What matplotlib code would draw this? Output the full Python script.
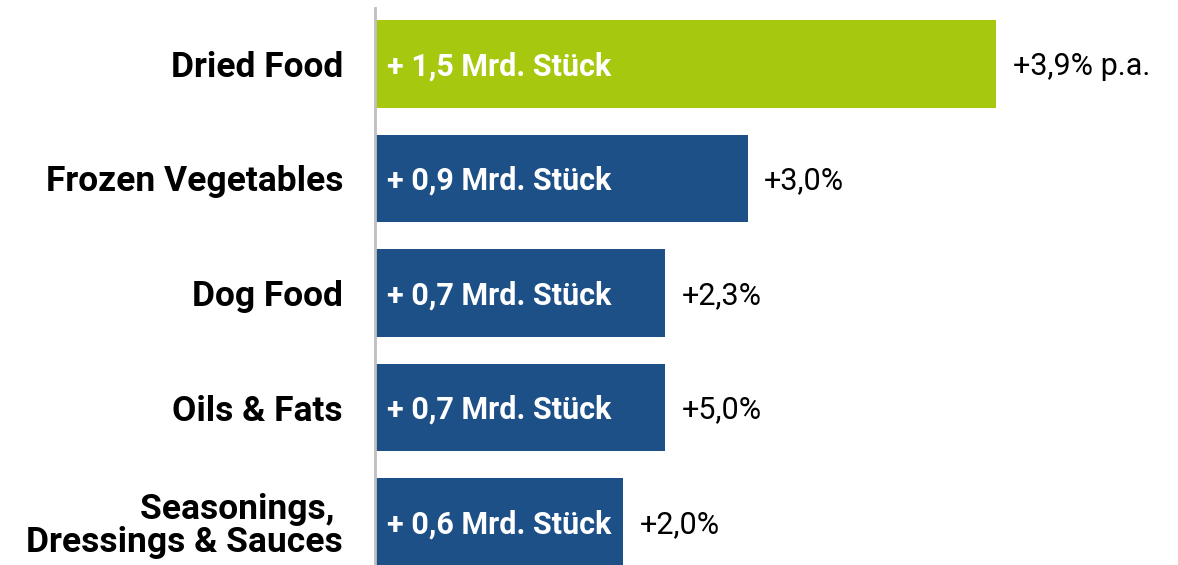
import matplotlib
matplotlib.use('Agg')
import matplotlib.pyplot as plt

categories = ['Dried Food', 'Frozen Vegetables', 'Dog Food', 'Oils & Fats',
              'Seasonings, \nDressings & Sauces']
values = [1.5, 0.9, 0.7, 0.7, 0.6]
bar_labels = ['+ 1,5 Mrd. Stück', '+ 0,9 Mrd. Stück', '+ 0,7 Mrd. Stück',
              '+ 0,7 Mrd. Stück', '+ 0,6 Mrd. Stück']
growth = ['+3,9% p.a.', '+3,0%', '+2,3%', '+5,0%', '+2,0%']
colors = ['#A6C80F', '#1E5088', '#1E5088', '#1E5088', '#1E5088']

plt.rcParams['font.family'] = ['Roboto', 'DejaVu Sans']

fig = plt.figure(figsize=(11.78, 5.65), dpi=100)
ax = fig.add_axes([375 / 1178, 0, 1 - 375 / 1178, 557 / 565])

pos = list(range(len(categories)))
ax.barh(pos, values, height=0.765, color=colors)
ax.set_ylim(4.374, -0.487)
ax.set_xlim(0, 803 / 414)

for y, v, lab, g in zip(pos, values, bar_labels, growth):
    ax.text(0.03, y + 0.02, lab, color='white', fontsize=22, fontweight='bold',
            va='center', ha='left')
    ax.text(v + 0.04, y + 0.02, g, color='black', fontsize=22, va='center', ha='left')

ax.set_yticks(pos)
ax.set_yticklabels(categories, fontsize=25.5, fontweight='bold')
for t in ax.get_yticklabels():
    t.set_linespacing(1.0)
ax.tick_params(axis='y', length=0, pad=23)
ax.set_xticks([])
for s in ['top', 'right', 'bottom']:
    ax.spines[s].set_visible(False)
ax.spines['left'].set_color('#BFBFBF')
ax.spines['left'].set_linewidth(2)

fig.savefig('out.png', dpi=100)
